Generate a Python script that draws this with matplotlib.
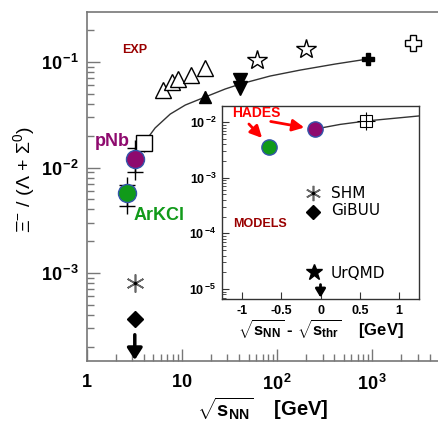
import matplotlib
matplotlib.use('Agg')
import matplotlib.pyplot as plt
from matplotlib.ticker import LogLocator, FixedLocator, NullFormatter

plt.rcParams['font.family'] = ['Liberation Sans', 'DejaVu Sans']
plt.rcParams['mathtext.fontset'] = 'custom'
plt.rcParams['mathtext.rm'] = 'Liberation Sans'
plt.rcParams['mathtext.bf'] = 'Liberation Sans:bold'
plt.rcParams['mathtext.it'] = 'Liberation Sans:italic'

# ---------------- main panel data ----------------
open_tri_x = [6.3, 7.8, 9.1, 12.4, 17.5]
open_tri_y = [0.054, 0.065, 0.069, 0.075, 0.088]
fill_tri_up_x = [17.3]
fill_tri_up_y = [0.047]
fill_tri_up_err = [0.006]
fill_tri_dn_x = [40.7, 40.7]
fill_tri_dn_y = [0.0675, 0.0568]
open_star_x = [61.6, 202.0]
open_star_y = [0.104, 0.133]
fill_cross_x = [890.0]
fill_cross_y = [0.107]
fill_cross_err = [0.012]
open_cross_x = [2700.0]
open_cross_y = [0.151]
open_square_x = [3.95]
open_square_y = [0.0170]
open_square_err = [0.003]
pnb_x = [3.18]
pnb_y = [0.0120]
pnb_sys_lo = [0.00906]
pnb_sys_hi = [0.0153]
arkcl_x = [2.61]
arkcl_y = [0.00573]
arkcl_sys_lo = [0.00431]
arkcl_sys_hi = [0.00682]
shm_x = [3.18]
shm_y = [8.0e-4]
gibuu_x = [3.18]
gibuu_y = [3.7e-4]
urqmd_x = [3.18]
urqmd_y_from = [2.6e-4]
urqmd_y_to = [1.5e-4]
curve_x = [3.2, 3.98, 5.2, 7.5, 10.8, 17.5, 28.4, 40.8, 84.0, 175.0, 408.0, 886.0]
curve_y = [0.0113, 0.0171, 0.0237, 0.0321, 0.0391, 0.0466, 0.0555, 0.0618,
           0.0736, 0.0839, 0.0957, 0.1066]

# ---------------- inset data ----------------
in_green_x = [-0.65]
in_green_y = [0.00355]
in_purple_x = [-0.075]
in_purple_y = [0.00748]
in_square_x = [0.585]
in_square_y = [0.0105]
in_curve_x = [-0.075, 0.25, 0.585, 1.25]
in_curve_y = [0.00748, 0.0091, 0.0105, 0.0129]
in_shm_x = [-0.09]
in_shm_y = [5.4e-4]
in_gibuu_x = [-0.09]
in_gibuu_y = [2.4e-4]
in_urqmd_x = [-0.08]
in_urqmd_y = [2.0e-5]
in_arrow_x = [0.0]
in_arrow_from = [1.2e-5]
in_arrow_to = [7.0e-6]

main_xticks = [1, 10, 100, 1000]
main_xticklabels = [r'$\mathbf{1}$', r'$\mathbf{10}$', r'$\mathbf{10^{\,2}}$', r'$\mathbf{10^{\,3}}$']
main_yticks = [1e-3, 1e-2, 1e-1]
main_yticklabels = [r'$\mathbf{10}^{\,\mathbf{-3}}$', r'$\mathbf{10}^{\,\mathbf{-2}}$', r'$\mathbf{10}^{\,\mathbf{-1}}$']
in_xticks = [-1, -0.5, 0, 0.5, 1]
in_xticklabels = ['-1', '-0.5', '0', '0.5', '1']
in_yticks = [1e-5, 1e-4, 1e-3, 1e-2]
in_yticklabels = [r'$\mathbf{10}^{\,\mathbf{-5}}$', r'$\mathbf{10}^{\,\mathbf{-4}}$',
                  r'$\mathbf{10}^{\,\mathbf{-3}}$', r'$\mathbf{10}^{\,\mathbf{-2}}$']

PURPLE = '#8e0a6e'
GREEN = '#119a1a'
DARKRED = '#990000'
FRAME = '#777777'

fig = plt.figure(figsize=(4.38, 4.23), dpi=100)
ax = fig.add_axes([87/438, 1-361/423, 1-87/438, (361-12)/423])
ax.set_xscale('log')
ax.set_yscale('log')
ax.set_xlim(1, 4900)
ax.set_ylim(10**-3.834, 10**-0.526)
for s in ax.spines.values():
    s.set_color(FRAME)
    s.set_linewidth(1.2)
ax.spines['right'].set_visible(False)

ax.plot(curve_x, curve_y, color='#333333', lw=1.0, zorder=2)
ax.plot(open_tri_x, open_tri_y, '^', ms=11, mfc='white', mec='black', mew=1.0, zorder=3)
ax.errorbar(fill_tri_up_x, fill_tri_up_y, yerr=fill_tri_up_err, fmt='^', ms=9,
            color='black', elinewidth=1, zorder=3)
ax.plot(fill_tri_dn_x, fill_tri_dn_y, 'v', ms=10, color='black', zorder=3)
ax.plot(open_star_x, open_star_y, '*', ms=15, mfc='white', mec='black', mew=1.0, zorder=3)
ax.errorbar(fill_cross_x, fill_cross_y, yerr=fill_cross_err, fmt='P', ms=9,
            color='black', elinewidth=1, zorder=3)
ax.plot(open_cross_x, open_cross_y, 'P', ms=12, mfc='white', mec='black', mew=1.0, zorder=3)
ax.errorbar(open_square_x, open_square_y, yerr=open_square_err, fmt='s', ms=11,
            mfc='white', mec='black', ecolor='black', mew=1.0, elinewidth=1, zorder=4)
# HADES points with systematic markers
ax.vlines(pnb_x, pnb_sys_lo, pnb_sys_hi, color='black', lw=1, zorder=4)
ax.plot(pnb_x * 2, [pnb_sys_lo[0], pnb_sys_hi[0]], '+', ms=12, mew=1, color='black', zorder=4)
ax.plot(pnb_x, pnb_y, 'o', ms=13, mfc=PURPLE, mec='#3355aa', mew=1, zorder=5)
ax.vlines(arkcl_x, arkcl_sys_lo, arkcl_sys_hi, color='black', lw=1, zorder=4)
ax.plot(arkcl_x * 2, [arkcl_sys_lo[0], arkcl_sys_hi[0]], '+', ms=12, mew=1, color='black', zorder=4)
ax.plot(arkcl_x, arkcl_y, 'o', ms=13, mfc=GREEN, mec='#3355aa', mew=1, zorder=5)
# models
ax.plot(shm_x, shm_y, marker=(6, 2, 0), ms=13, color='#666666', mew=1.2, ls='none', zorder=4)
ax.plot(shm_x, shm_y, '.', ms=3, color='black', zorder=5)
ax.plot(gibuu_x, gibuu_y, 'D', ms=8, color='black', zorder=4)
ax.annotate('', xy=(urqmd_x[0], urqmd_y_to[0]), xytext=(urqmd_x[0], urqmd_y_from[0]),
            arrowprops=dict(arrowstyle='-|>,head_width=0.45,head_length=0.7', lw=2.5,
                            color='black', shrinkA=0, shrinkB=0), zorder=5)

ax.xaxis.set_major_locator(FixedLocator(main_xticks))
ax.set_xticklabels(main_xticklabels, fontsize=13)
ax.xaxis.set_minor_locator(LogLocator(base=10, subs=range(2, 10), numticks=20))
ax.xaxis.set_minor_formatter(NullFormatter())
ax.yaxis.set_major_locator(FixedLocator(main_yticks))
ax.set_yticklabels(main_yticklabels, fontsize=13)
ax.yaxis.set_minor_locator(LogLocator(base=10, subs=range(2, 10), numticks=20))
ax.yaxis.set_minor_formatter(NullFormatter())
ax.tick_params(which='both', direction='in', color=FRAME, top=False, right=False)
ax.tick_params(which='major', length=9, width=1, pad=6)
ax.tick_params(axis='x', which='major', pad=9)
ax.tick_params(which='minor', length=5, width=1)

ax.set_xlabel(r'$\sqrt{\mathbf{s}_{\mathbf{NN}}}$    [GeV]', fontsize=14.5, fontweight='bold', labelpad=1)
fig.text(0.055, 1-180/423, r'$\Xi^{-}$ / ($\Lambda$ + $\Sigma^{0}$)', rotation=90,
         fontsize=14, ha='center', va='center')

fig.text(122/438, 1-50/423, 'EXP', fontsize=9, fontweight='bold', color=DARKRED, va='center')
fig.text(95/438, 1-141/423, 'pNb', fontsize=13, fontweight='bold', color=PURPLE, va='center')
fig.text(134/438, 1-215/423, 'ArKCl', fontsize=13, fontweight='bold', color=GREEN, va='center')

# ---------------- inset ----------------
axi = fig.add_axes([222/438, 1-299/423, (419-222)/438, (299-106)/423])
axi.set_yscale('log')
axi.set_xlim(-1.254, 1.254)
axi.set_ylim(10**-5.18, 10**-1.71)
for s in axi.spines.values():
    s.set_color('#333333')
    s.set_linewidth(1.0)
axi.plot(in_curve_x, in_curve_y, color='#333333', lw=1.0, zorder=2)
axi.plot(in_square_x, in_square_y, 's', ms=9, mfc='white', mec='black', mew=0.8, zorder=3)
axi.plot(in_square_x, in_square_y, '+', ms=13, mew=0.8, color='black', zorder=3)
axi.plot(in_purple_x, in_purple_y, 'o', ms=11, mfc=PURPLE, mec='#3355aa', mew=1, zorder=4)
axi.plot(in_green_x, in_green_y, 'o', ms=11, mfc=GREEN, mec='#3355aa', mew=1, zorder=4)
axi.plot(in_shm_x, in_shm_y, marker=(6, 2, 0), ms=11, color='#666666', mew=1.2, ls='none', zorder=4)
axi.plot(in_shm_x, in_shm_y, '.', ms=3, color='black', zorder=5)
axi.plot(in_gibuu_x, in_gibuu_y, 'D', ms=7, color='black', zorder=4)
axi.plot(in_urqmd_x, in_urqmd_y, '*', ms=12, color='black', zorder=4)
axi.annotate('', xy=(in_arrow_x[0], in_arrow_to[0]), xytext=(in_arrow_x[0], in_arrow_from[0]),
             arrowprops=dict(arrowstyle='-|>,head_width=0.3,head_length=0.5', lw=2,
                             color='black', shrinkA=0, shrinkB=0), zorder=5)

axi.xaxis.set_major_locator(FixedLocator(in_xticks))
axi.set_xticklabels(in_xticklabels, fontsize=9, fontweight='bold')
axi.yaxis.set_major_locator(FixedLocator(in_yticks))
axi.set_yticklabels(in_yticklabels, fontsize=9)
axi.yaxis.set_minor_locator(LogLocator(base=10, subs=range(2, 10), numticks=20))
axi.yaxis.set_minor_formatter(NullFormatter())
axi.tick_params(which='both', direction='in', top=False, right=False, color='#333333')
axi.tick_params(which='major', length=5, pad=4)
axi.tick_params(which='minor', length=3)
axi.set_xlabel(r'$\sqrt{\mathbf{s}_{\mathbf{NN}}}$ - $\sqrt{\mathbf{s}_{\mathbf{thr}}}$    [GeV]',
               fontsize=12, fontweight='bold', labelpad=1)

fig.text(232/438, 1-113/423, 'HADES', fontsize=10, fontweight='bold', color='red', va='center')
fig.text(233/438, 1-224/423, 'MODELS', fontsize=9, fontweight='bold', color=DARKRED, va='center')
fig.text(331/438, 1-193/423, 'SHM', fontsize=11, family='DejaVu Sans', va='center')
fig.text(331/438, 1-210/423, 'GiBUU', fontsize=11, family='DejaVu Sans', va='center')
fig.text(331/438, 1-273/423, 'UrQMD', fontsize=11, family='DejaVu Sans', va='center')
for (x0, y0, x1, y1) in [(247, 122, 264, 140), (268, 121, 307, 128)]:
    fig.add_artist(matplotlib.patches.FancyArrowPatch(
        (x0/438, 1-y0/423), (x1/438, 1-y1/423), transform=fig.transFigure,
        arrowstyle='-|>,head_width=3.5,head_length=7', lw=2, color='red', mutation_scale=1))

fig.savefig('out.png', dpi=100)
